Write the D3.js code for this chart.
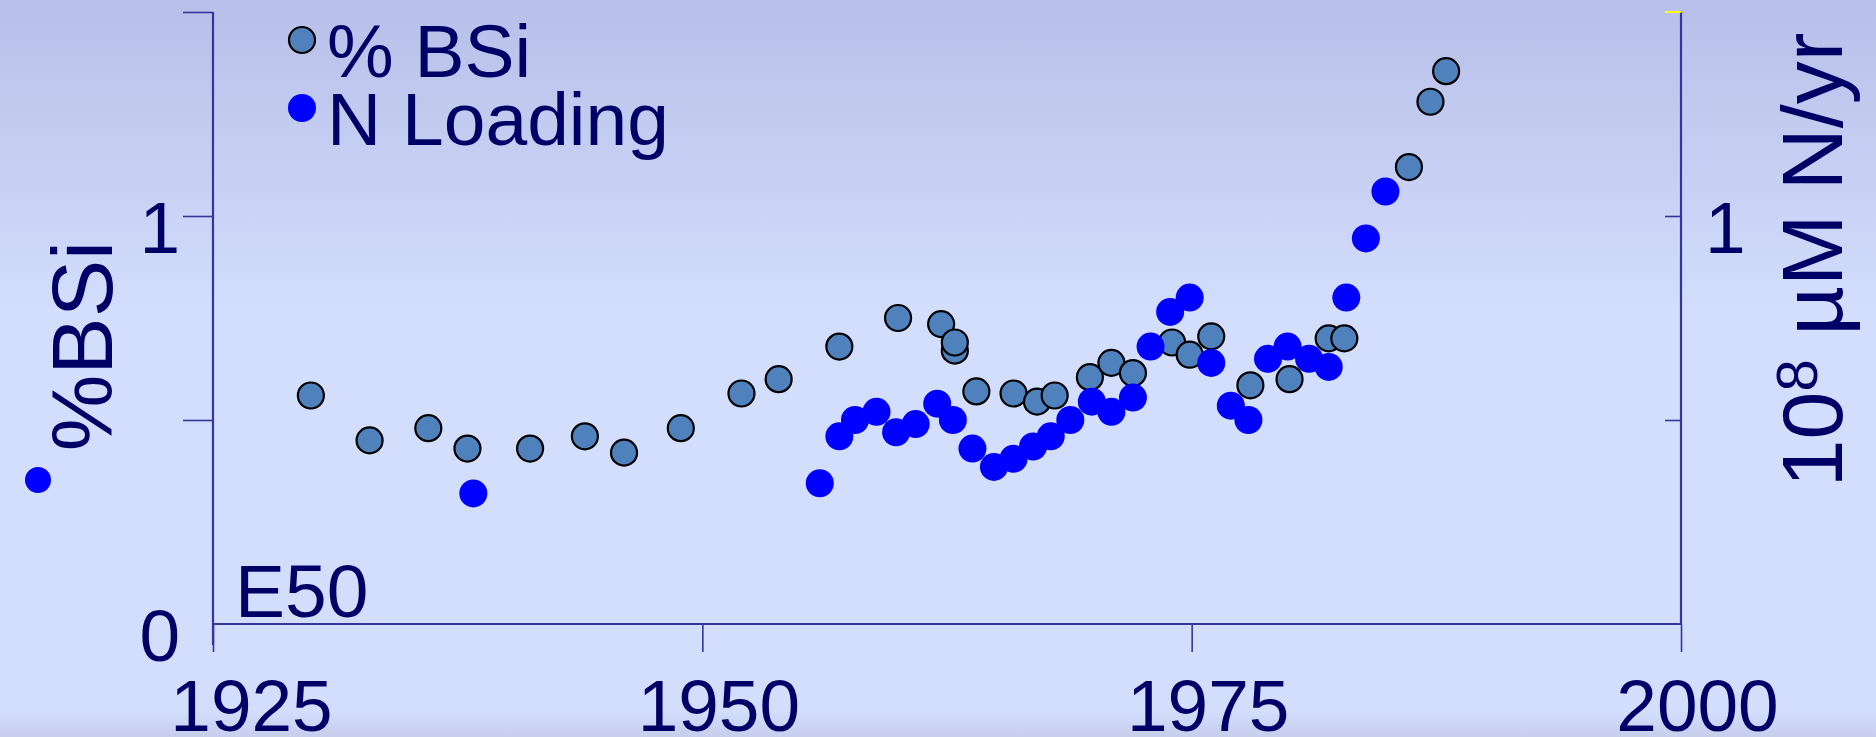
<!DOCTYPE html>
<html>
<head>
<meta charset="utf-8">
<script src="https://cdn.jsdelivr.net/npm/d3@7"></script>
<style>
  html, body { margin: 0; padding: 0; background: #d3ddfc; }
  svg { display: block; font-family: "Liberation Sans", Arial, sans-serif; }
</style>
</head>
<body>
<svg id="chart" width="1876" height="737"></svg>
<script>
// Core E50: biogenic silica (%) and nitrogen loading by year
const bsiYears = [1930, 1933, 1936, 1938, 1941.2, 1944, 1946, 1948.9, 1952, 1953.9,
  1957, 1960, 1962.2, 1962.9, 1962.9, 1964, 1965.9, 1967.1, 1968, 1969.8,
  1970.9, 1972, 1974, 1974.9, 1976, 1978, 1980, 1982, 1982.8, 1986.1, 1987.2, 1988];
const bsiValues = [0.56, 0.45, 0.48, 0.43, 0.43, 0.46, 0.42, 0.48, 0.565, 0.60,
  0.68, 0.75, 0.735, 0.67, 0.69, 0.57, 0.565, 0.545, 0.56, 0.605,
  0.64, 0.615, 0.69, 0.66, 0.705, 0.585, 0.60, 0.70, 0.70, 1.12, 1.28, 1.355];

const nYears = [1938.3, 1956, 1957, 1957.8, 1958.9, 1959.9, 1960.9, 1962, 1962.8, 1963.8,
  1964.9, 1965.9, 1966.9, 1967.8, 1968.8, 1969.9, 1970.9, 1972, 1972.9, 1973.9,
  1974.9, 1976, 1977, 1977.9, 1978.9, 1979.9, 1981, 1982, 1982.9, 1983.9, 1984.9];
const nValues = [0.32, 0.345, 0.46, 0.50, 0.52, 0.47, 0.49, 0.54, 0.50, 0.43,
  0.385, 0.405, 0.435, 0.46, 0.50, 0.545, 0.52, 0.555, 0.68, 0.765,
  0.80, 0.64, 0.535, 0.50, 0.65, 0.68, 0.65, 0.63, 0.80, 0.945, 1.06];

const xTicks = [1925, 1950, 1975, 2000];
const leftTicks = [0.5, 1, 1.5];
const leftLabels = [0, 1];
const rightTicks = [0.5, 1];
const rightLabels = [1];
const legendItems = ["% BSi", "N Loading"];
const coreLabel = "E50";

const bsiData = bsiYears.map((yr, i) => ({ yr, v: bsiValues[i] }));
const nData = nYears.map((yr, i) => ({ yr, v: nValues[i] }));

const W = 1876, H = 737;
const plotL = 213, plotR = 1681, plotT = 12, plotB = 624;
const ink = "#000066", axisColor = "#35359c";
const bsiFill = "#4f81bd", nFill = "#0000ff";
const R = 13;

const svg = d3.select("#chart");

// background wash
const defs = svg.append("defs");
const grad = defs.append("linearGradient").attr("id", "bg")
  .attr("x1", 0).attr("y1", 0).attr("x2", 0).attr("y2", 1);
[[0, "#b8bfe9"], [0.42, "#d3ddfc"], [0.965, "#d3ddfc"], [1, "#c6ceec"]]
  .forEach(([o, c]) => grad.append("stop").attr("offset", o).attr("stop-color", c));
svg.append("rect").attr("width", W).attr("height", H).attr("fill", "url(#bg)");

const x = d3.scaleLinear().domain([1925, 2000]).range([plotL, plotR]);
const y = d3.scaleLinear().domain([0, 1.5]).range([plotB, plotT]);
const yN = d3.scaleLinear().domain([0, 1.5]).range([plotB, plotT]);

// left axis: ticks outward, labels on 0 and 1
const gL = svg.append("g").attr("transform", `translate(${plotL},0)`);
gL.call(d3.axisLeft(y).tickValues(leftTicks).tickSize(30).tickFormat(""));
gL.append("line").attr("class", "spine").attr("x1", 0).attr("x2", 0)
  .attr("y1", y(1.5)).attr("y2", y(0) + 21);
const gLl = svg.append("g").attr("transform", `translate(${plotL},0)`);
gLl.call(d3.axisLeft(y).tickValues(leftLabels).tickSize(0).tickPadding(33).tickFormat(d3.format("d")));

// right axis: ticks inward
const gR = svg.append("g").attr("transform", `translate(${plotR},0)`);
gR.call(d3.axisLeft(yN).tickValues(rightTicks).tickSize(16).tickFormat(""));
gR.append("line").attr("class", "spine").attr("x1", 0).attr("x2", 0)
  .attr("y1", yN(1.5)).attr("y2", yN(0));
gR.append("line").attr("class", "mark").attr("x1", -16).attr("x2", 0)
  .attr("y1", yN(1.5)).attr("y2", yN(1.5));
const gRl = svg.append("g").attr("transform", `translate(${plotR},0)`);
gRl.call(d3.axisRight(yN).tickValues(rightLabels).tickSize(0).tickPadding(24).tickFormat(d3.format("d")));

// bottom axis
const gB = svg.append("g").attr("transform", `translate(0,${plotB})`);
gB.call(d3.axisBottom(x).tickValues(xTicks).tickSize(28).tickPadding(27).tickFormat(d3.format("d")));
gB.append("line").attr("class", "spine").attr("x1", plotL).attr("x2", plotR)
  .attr("y1", 0).attr("y2", 0);

svg.selectAll(".domain").remove();
svg.selectAll(".tick line").attr("stroke", axisColor).attr("stroke-width", 1.6);
svg.selectAll("line.spine").attr("stroke", axisColor).attr("stroke-width", 2.2);
gR.select("line.mark").attr("stroke", "#ffff00").attr("stroke-width", 2);

svg.selectAll(".tick text").attr("fill", ink).attr("font-size", 73)
  .attr("font-family", "'Liberation Sans', Arial, sans-serif");
gLl.selectAll(".tick text").attr("dy", "0.5em");
gRl.selectAll(".tick text").attr("dy", "0.5em");
gB.selectAll(".tick text").attr("dx", d => d === 1925 ? 38 : 16);

// points: silica first, nitrogen over it
svg.append("g").selectAll("circle").data(bsiData).join("circle")
  .attr("cx", d => x(d.yr)).attr("cy", d => y(d.v)).attr("r", R)
  .attr("fill", bsiFill).attr("stroke", "#000").attr("stroke-width", 2.2);
svg.append("g").selectAll("circle").data(nData).join("circle")
  .attr("cx", d => x(d.yr)).attr("cy", d => yN(d.v)).attr("r", R + 1)
  .attr("fill", nFill);

// legend
const lg = svg.append("g");
legendItems.forEach((label, i) => {
  const cy = 40 + i * 68;
  if (i === 0) {
    lg.append("circle").attr("cx", 302).attr("cy", cy).attr("r", R)
      .attr("fill", bsiFill).attr("stroke", "#000").attr("stroke-width", 2.2);
  } else {
    lg.append("circle").attr("cx", 302).attr("cy", cy).attr("r", R + 1).attr("fill", nFill);
  }
  lg.append("text").attr("x", 327).attr("y", cy + 37).attr("font-size", 75)
    .attr("fill", ink).text(label);
});

// core label
svg.append("text").attr("x", 235).attr("y", 617).attr("font-size", 75)
  .attr("fill", ink).text(coreLabel);

// left axis title with its marker
svg.append("text").attr("transform", "translate(112,346) rotate(-90)")
  .attr("text-anchor", "middle").attr("font-size", 86).attr("fill", ink).text("%BSi");
svg.append("circle").attr("cx", 38).attr("cy", 480).attr("r", R).attr("fill", nFill);

// right axis title
const rt = svg.append("text").attr("transform", "translate(1842,260) rotate(-90)")
  .attr("text-anchor", "middle").attr("font-size", 86).attr("fill", ink);
rt.append("tspan").text("10");
rt.append("tspan").attr("dy", -25).attr("font-size", 58).text("8");
rt.append("tspan").attr("dy", 25).text(" µM N/yr");
</script>
</body>
</html>
